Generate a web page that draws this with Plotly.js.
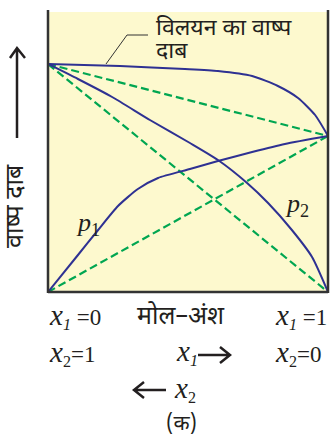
<!DOCTYPE html>
<html>
<head>
<meta charset="utf-8">
<script src="https://cdn.plot.ly/plotly-3.0.1.min.js"></script>
<style>
  body { margin: 0; background: #fff; }
  #chart { width: 330px; height: 439px; }
</style>
</head>
<body>
<div id="chart"></div>
<script>
// mole fraction of component 1 and the pressures
const x1Total = [0, 0.257, 0.489, 0.607, 0.729, 0.821, 0.893, 0.954, 1];
const pTotal = [228, 226, 223, 221, 216, 206, 194, 177, 156];

const x1P2 = [0, 0.107, 0.229, 0.364, 0.507, 0.607, 0.711, 0.786, 0.871, 0.943, 1];
const p2Values = [228, 213, 195, 172, 149, 132, 109, 89, 62, 35, 0];

const x1P1 = [0, 0.107, 0.179, 0.25, 0.321, 0.393, 0.507, 0.607, 0.729, 0.846, 1];
const p1Values = [0, 37, 62, 86, 103, 114, 123, 131, 140, 148, 156];

// ideal (Raoult) straight lines
const idealX = [0, 1];
const idealTotal = [228, 156];
const idealP2 = [228, 0];
const idealP1 = [0, 156];

const blue = '#2e3192';
const green = '#00a651';
const hindi = 'Noto Sans Devanagari, Noto Sans, sans-serif';
const serif = 'Times New Roman, Liberation Serif, serif';

// pixel helpers for placing text around the plot area
const L = 48, R = 328, T = 12, B = 292;
const px = x => (x - L) / (R - L);
const py = y => (B - y) / (B - T);

function dashed(y) {
    return {
        x: idealX, y: y, mode: 'lines', type: 'scatter', hoverinfo: 'skip',
        line: { color: green, width: 2.2, dash: '8px,4px' }
    };
}
function curve(x, y) {
    return {
        x: x, y: y, mode: 'lines', type: 'scatter', hoverinfo: 'skip',
        line: { color: blue, width: 2, shape: 'spline', smoothing: 0.6 }
    };
}

const traces = [
    dashed(idealTotal), dashed(idealP2), dashed(idealP1),
    curve(x1Total, pTotal), curve(x1P2, p2Values), curve(x1P1, p1Values)
];

function note(text, x, y, size, family, anchor) {
    return {
        text: text, xref: 'paper', yref: 'paper', x: px(x), y: py(y),
        xanchor: anchor || 'left', yanchor: 'middle', showarrow: false,
        font: { size: size, family: family, color: '#231f20' }
    };
}

const xi = '<span style="font-size:29px;font-family:Liberation Serif"><i>x</i></span>';
const annotations = [
    note('विलयन का वाष्प', 154, 29, 23, hindi),
    note('दाब', 154, 52, 23, hindi),
    note('<i>p</i><sub>1</sub>', 88, 224, 26, serif, 'center'),
    note('<i>p</i><sub>2</sub>', 297, 205, 26, serif, 'center'),
    note(xi + '<sub><i>1</i></sub> =0', 47, 316, 23, serif),
    note('मोल–अंश', 135, 317, 25, hindi),
    note(xi + '<sub><i>1</i></sub> =1', 273, 316, 23, serif),
    note(xi + '<sub>2</sub>=1', 47, 353, 23, serif),
    note(xi + '<sub><i>1</i></sub>', 174, 352, 23, serif),
    note(xi + '<sub>2</sub>', 172, 389, 23, serif),
    note(xi + '<sub>2</sub>=0', 273, 353, 23, serif),
    note('(क)', 181, 425, 21, hindi, 'center'),
    Object.assign(note('वाष्प दाब', 17, 206, 25, hindi, 'center'), { textangle: -90 })
];

const lineStyle = { color: '#333', width: 2.5 };
const ink = { color: '#231f20', width: 2.5 };
const shapes = [
    { type: 'line', xref: 'paper', yref: 'paper', x0: 0, x1: 0, y0: -0.004, y1: py(10), line: lineStyle },
    { type: 'line', xref: 'paper', yref: 'paper', x0: 1, x1: 1, y0: -0.004, y1: py(10), line: lineStyle },
    { type: 'line', xref: 'paper', yref: 'paper', x0: 0, x1: 1, y0: 0, y1: 0, line: lineStyle },
    // leader line to the total pressure curve
    {
        type: 'path', xref: 'paper', yref: 'paper',
        path: `M${px(106)},${py(64)} L${px(127)},${py(35)} L${px(148)},${py(35)}`,
        line: { color: '#333', width: 1 }
    },
    // up arrow beside the y label
    {
        type: 'path', xref: 'paper', yref: 'paper',
        path: `M${px(17)},${py(138)} L${px(17)},${py(48)} M${px(10)},${py(58)} L${px(17)},${py(48)} L${px(25)},${py(58)}`,
        line: ink
    },
    // x1 -> arrow
    {
        type: 'path', xref: 'paper', yref: 'paper',
        path: `M${px(198)},${py(355)} L${px(229)},${py(355)} M${px(220)},${py(347)} L${px(230)},${py(355)} L${px(220)},${py(363)}`,
        line: ink
    },
    // <- x2 arrow
    {
        type: 'path', xref: 'paper', yref: 'paper',
        path: `M${px(166)},${py(390)} L${px(135)},${py(390)} M${px(144)},${py(382)} L${px(134)},${py(390)} L${px(144)},${py(398)}`,
        line: ink
    }
];

const layout = {
    width: 330, height: 439,
    margin: { l: L, r: 330 - R, t: T, b: 439 - B, pad: 0 },
    paper_bgcolor: '#ffffff',
    plot_bgcolor: '#fdf9ce',
    showlegend: false,
    xaxis: { range: [0, 1], showgrid: false, zeroline: false, showticklabels: false, showline: false, fixedrange: true },
    yaxis: { range: [0, 280], showgrid: false, zeroline: false, showticklabels: false, showline: false, fixedrange: true },
    annotations: annotations,
    shapes: shapes
};

Plotly.newPlot('chart', traces, layout, { displayModeBar: false, staticPlot: true });
</script>
</body>
</html>
